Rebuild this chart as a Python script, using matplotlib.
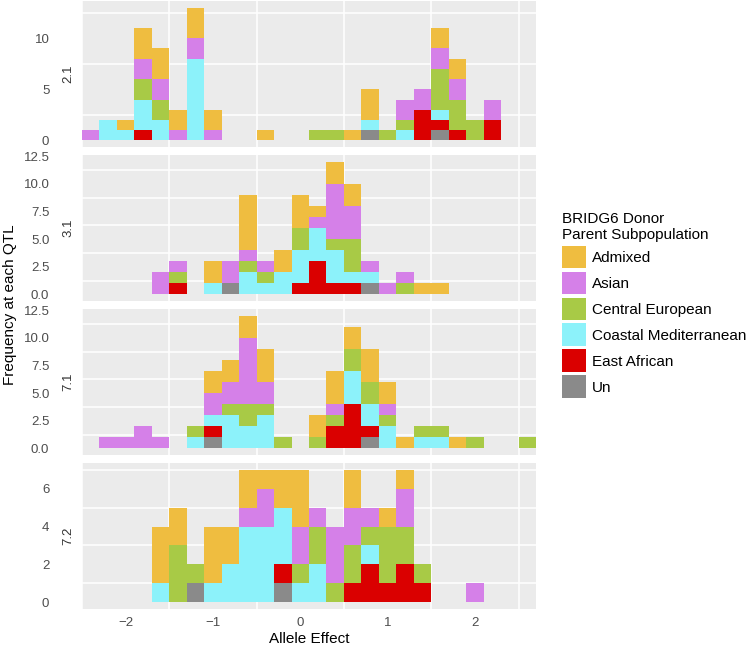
import numpy as np
import matplotlib
matplotlib.use("Agg")
from matplotlib import pyplot as plt
from matplotlib.patches import Patch

plt.rcParams['font.family'] = ['Liberation Sans', 'DejaVu Sans']

# histogram bins (width 0.2) of allele effect
bin_centers = np.round(np.arange(-2.4, 2.61, 0.2), 1)

categories = ['Admixed', 'Asian', 'Central European', 'Coastal Mediterranean', 'East African', 'Un']
colors = ['#EFBD40', '#D580E8', '#A8CA46', '#8CF2FA', '#DA0000', '#8A8A8A']
qtls = ['2.1', '3.1', '7.1', '7.2']

# counts per bin, one list per subpopulation, same order as categories
counts_21 = [
    [0,0,1,3,3,2,3,2,0,0,1,0,0,0,0,1,3,0,0,0,2,2,0,0,0,0],
    [1,0,0,2,2,1,2,1,0,0,0,0,0,0,0,0,0,0,2,2,2,2,0,2,0,0],
    [0,0,0,2,2,0,0,0,0,0,0,0,0,1,1,0,0,1,1,0,4,3,2,0,0,0],
    [0,2,1,3,2,0,8,0,0,0,0,0,0,0,0,0,1,0,1,0,1,0,0,0,0,0],
    [0,0,0,1,0,0,0,0,0,0,0,0,0,0,0,0,0,0,0,3,1,1,0,2,0,0],
    [0,0,0,0,0,0,0,0,0,0,0,0,0,0,0,0,1,0,0,0,1,0,0,0,0,0],
]
counts_31 = [
    [0,0,0,0,0,0,0,2,0,5,0,2,3,1,2,2,0,0,0,1,1,0,0,0,0,0],
    [0,0,0,0,2,1,0,0,2,1,1,0,0,1,5,3,1,1,1,0,0,0,0,0,0,0],
    [0,0,0,0,0,1,0,0,0,1,1,0,2,0,1,3,0,0,1,0,0,0,0,0,0,0],
    [0,0,0,0,0,0,0,1,0,2,1,2,3,3,3,1,1,0,0,0,0,0,0,0,0,0],
    [0,0,0,0,0,1,0,0,0,0,0,0,1,3,1,1,0,0,0,0,0,0,0,0,0,0],
    [0,0,0,0,0,0,0,0,1,0,0,0,0,0,0,0,1,0,0,0,0,0,0,0,0,0],
]
counts_71 = [
    [0,0,0,0,0,0,0,2,2,2,3,0,0,2,3,2,3,2,1,0,0,1,0,0,0,0],
    [0,1,1,2,1,0,0,2,2,6,2,0,0,0,1,0,0,1,0,0,0,0,0,0,0,0],
    [0,0,0,0,0,0,1,0,1,2,1,1,0,1,1,2,2,1,0,1,1,0,1,0,0,1],
    [0,0,0,0,0,0,1,1,3,2,3,0,0,0,0,3,2,2,0,1,1,0,0,0,0,0],
    [0,0,0,0,0,0,0,1,0,0,0,0,0,0,2,4,1,0,0,0,0,0,0,0,0,0],
    [0,0,0,0,0,0,0,1,0,0,0,0,0,0,0,0,1,0,0,0,0,0,0,0,0,0],
]
counts_72 = [
    [0,0,0,0,3,2,0,3,2,2,1,2,3,0,0,2,0,1,1,0,0,0,0,0,0,0],
    [0,0,0,0,0,0,0,0,0,1,2,0,2,1,3,2,1,0,2,0,0,0,1,0,0,0],
    [0,0,0,0,0,3,1,0,0,0,0,0,1,2,1,2,1,3,2,1,0,0,0,0,0,0],
    [0,0,0,0,1,0,0,1,2,4,4,3,1,2,0,0,1,0,0,0,0,0,0,0,0,0],
    [0,0,0,0,0,0,0,0,0,0,0,1,0,0,0,1,2,1,2,1,0,0,0,0,0,0],
    [0,0,0,0,0,0,1,0,0,0,0,1,0,0,0,0,0,0,0,0,0,0,0,0,0,0],
]
all_counts = [counts_21, counts_31, counts_71, counts_72]

y_major = [[0, 5, 10], [0, 2.5, 5, 7.5, 10, 12.5], [0, 2.5, 5, 7.5, 10, 12.5], [0, 2, 4, 6]]
y_minor = [[2.5, 7.5, 12.5], [1.25, 3.75, 6.25, 8.75, 11.25], [1.25, 3.75, 6.25, 8.75, 11.25], [1, 3, 5, 7]]
x_major = [-2, -1, 0, 1, 2]
x_minor = [-2.5, -1.5, -0.5, 0.5, 1.5, 2.5]

#=======================================================================================

W, H = 747, 646
fig = plt.figure(figsize=(W/100, H/100), dpi=100)

def px_axes(left, top, width, height):
    return fig.add_axes([left/W, 1-(top+height)/H, width/W, height/H])

p_left, p_width, p_height = 82, 454, 146
p_tops = [1, 155, 309, 463]
txt_col = '#4D4D4D'

for k, counts in enumerate(all_counts):
    ax = px_axes(p_left, p_tops[k], p_width, p_height)
    ax.set_facecolor('#EBEBEB')
    bottom = np.zeros(len(bin_centers))
    # ggplot stacks the first level on top, so draw from the last one
    for c in reversed(range(len(categories))):
        vals = np.array(counts[c], dtype=float)
        ax.bar(bin_centers, vals, width=0.2, bottom=bottom, color=colors[c], linewidth=0)
        bottom += vals
    ymax = bottom.max()
    ax.set_ylim(-0.05*ymax, 1.05*ymax)
    ax.set_xlim(-2.5, 2.7)
    ax.set_yticks(y_major[k])
    ax.set_yticks(y_minor[k], minor=True)
    ax.set_xticks(x_major)
    ax.set_xticks(x_minor, minor=True)
    if k == 1 or k == 2:
        ax.set_yticklabels(['%.1f' % v for v in y_major[k]])
    ax.grid(which='minor', color='white', linewidth=1.1)
    ax.grid(which='major', visible=False)
    ax.set_axisbelow(True)
    for s in ax.spines.values():
        s.set_visible(False)
    ax.tick_params(which='both', length=0)
    ax.tick_params(axis='y', pad=23.5, labelsize=9.5, labelcolor=txt_col)
    ax.tick_params(axis='x', pad=6, labelsize=9.5, labelcolor=txt_col)
    if k < 3:
        ax.set_xticklabels([])
    fig.text(68/W, 1-(p_tops[k]+p_height/2)/H, qtls[k], rotation=90, ha='center', va='center',
             fontsize=9.5, color='#333333')

fig.text((p_left+p_width/2)/W, 1-639/H, 'Allele Effect', ha='center', va='center', fontsize=11)
fig.text(10/W, 1-305/H, 'Frequency at each QTL', rotation=90, ha='center', va='center', fontsize=11)

handles = [Patch(facecolor=col, edgecolor='none') for col in colors]
leg = fig.legend(handles, categories, loc='upper left', bbox_to_anchor=(562/W, 1-212/H),
                 frameon=False, title='BRIDG6 Donor\nParent Subpopulation', alignment='left',
                 fontsize=11, title_fontsize=11, handlelength=1.6, handleheight=1.9,
                 handletextpad=0.35, labelspacing=0.22, borderpad=0, borderaxespad=0)

plt.savefig('out.png', dpi=100)
